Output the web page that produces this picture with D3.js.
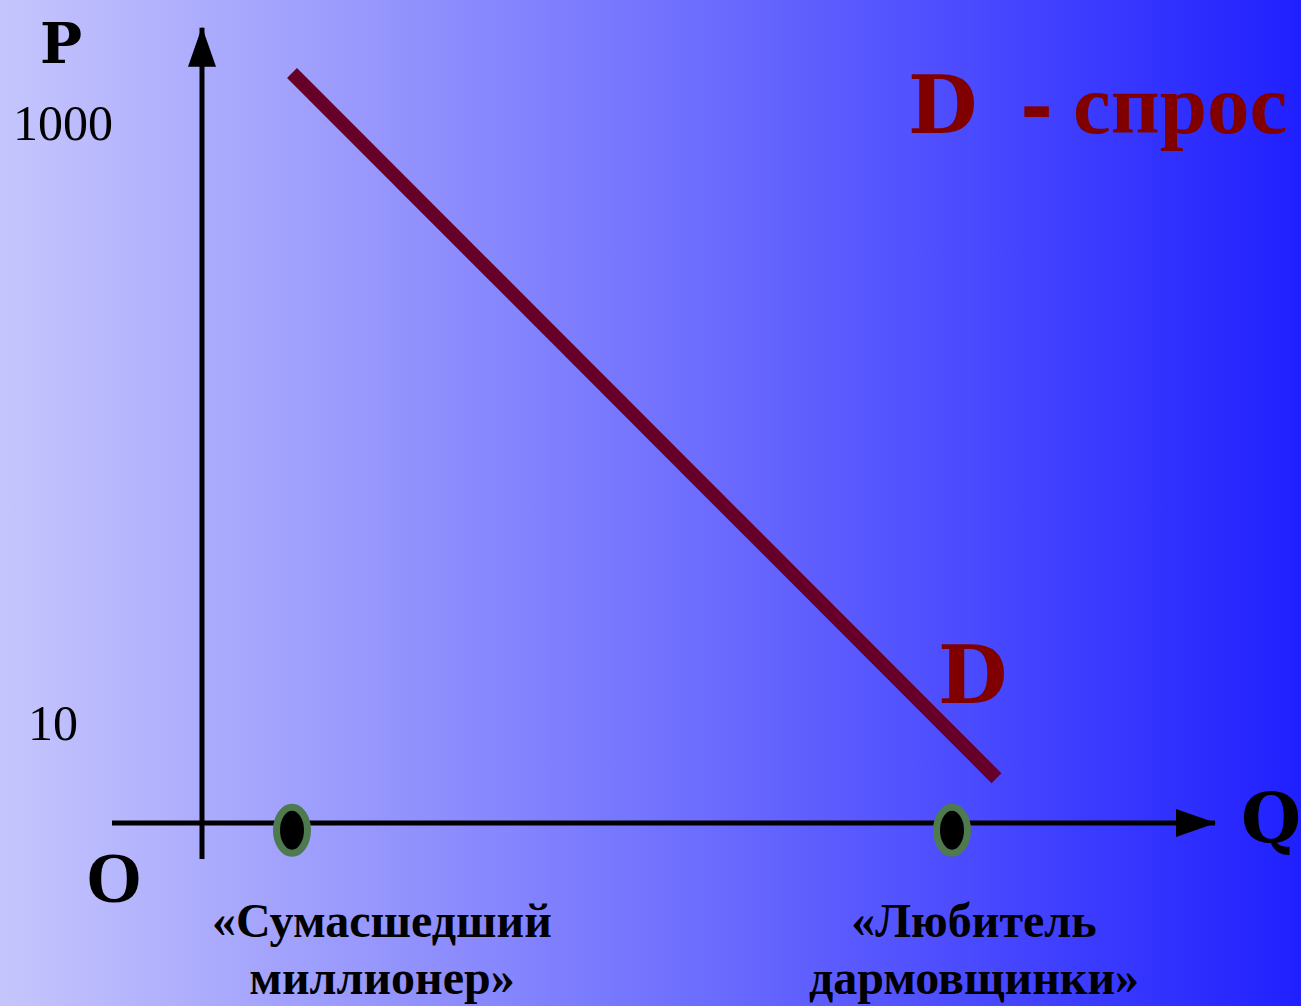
<!DOCTYPE html>
<html>
<head>
<meta charset="utf-8">
<script src="https://cdn.jsdelivr.net/npm/d3@7"></script>
<style>
  html, body { margin: 0; padding: 0; overflow: hidden; }
  svg { display: block; }
</style>
</head>
<body>
<div id="chart"></div>
<script>
// demand curve D (schematic units, Q and P both 0..100)
const demandQ = [9, 79.45];
const demandP = [93.75, 5.6];

// price tick labels on the P axis
const priceLabels = ["1000", "10"];
const priceValues = [87.2, 12.2];

// the two consumers marked on the Q axis
const buyerQ = [9, 75];
const buyerNames = [
  ["«Сумасшедший", "миллионер»"],
  ["«Любитель", "дармовщинки»"]
];

const width = 1301, height = 1006;

const svg = d3.select("#chart")
  .append("svg")
    .attr("width", width)
    .attr("height", height);

// background gradient, light lilac -> strong blue
const defs = svg.append("defs");
const grad = defs.append("linearGradient")
  .attr("id", "bg")
  .attr("x1", "0%").attr("x2", "100%")
  .attr("y1", "0%").attr("y2", "0%");
grad.append("stop").attr("offset", "0%").attr("stop-color", "rgb(198,198,253)");
grad.append("stop").attr("offset", "100%").attr("stop-color", "rgb(32,32,255)");

svg.append("rect")
  .attr("width", width)
  .attr("height", height)
  .attr("fill", "url(#bg)");

var x = d3.scaleLinear().domain([0, 100]).range([202, 1202]);
var y = d3.scaleLinear().domain([0, 100]).range([823, 23]);

// arrow markers
defs.append("marker")
  .attr("id", "arrow")
  .attr("viewBox", "0 0 40 28")
  .attr("refX", 39).attr("refY", 14)
  .attr("markerWidth", 40).attr("markerHeight", 28)
  .attr("markerUnits", "userSpaceOnUse")
  .attr("orient", "auto")
  .append("path")
    .attr("d", "M0,0 L40,14 L0,28 Z")
    .attr("fill", "#000");

// Q axis
svg.append("line")
  .attr("x1", x(-9)).attr("y1", y(0))
  .attr("x2", x(101.3)).attr("y2", y(0))
  .attr("stroke", "#000")
  .attr("stroke-width", 5)
  .attr("marker-end", "url(#arrow)");

// P axis
svg.append("line")
  .attr("x1", x(0)).attr("y1", y(-4.5))
  .attr("x2", x(0)).attr("y2", y(99.4))
  .attr("stroke", "#000")
  .attr("stroke-width", 5)
  .attr("marker-end", "url(#arrow)");

// demand line
const demand = demandQ.map((q, i) => [x(q), y(demandP[i])]);
svg.append("path")
  .datum(demand)
  .attr("d", d3.line())
  .attr("fill", "none")
  .attr("stroke", "#660029")
  .attr("stroke-width", 14);

// buyers as ovals on the Q axis
svg.selectAll("ellipse.buyer")
  .data(buyerQ)
  .enter()
  .append("ellipse")
    .attr("class", "buyer")
    .attr("cx", d => x(d))
    .attr("cy", y(-0.9))
    .attr("rx", 15.5)
    .attr("ry", 23)
    .attr("fill", "#000")
    .attr("stroke", "#4f7a50")
    .attr("stroke-width", 7);

// price tick labels
const tickX = [13, 28];
svg.selectAll("text.tick")
  .data(priceLabels)
  .enter()
  .append("text")
    .attr("class", "tick")
    .attr("x", (d, i) => tickX[i])
    .attr("y", (d, i) => y(priceValues[i]) + 15)
    .attr("font-family", "'Liberation Serif', serif")
    .attr("font-size", 50)
    .attr("fill", "#000")
    .text(d => d);

// axis letters
const slab = "'DejaVu Serif', serif";
svg.append("text")
  .attr("x", 40).attr("y", 63)
  .attr("font-family", slab).attr("font-weight", "bold")
  .attr("font-size", 56)
  .text("P");

svg.append("text")
  .attr("x", 1241).attr("y", 843)
  .attr("font-family", slab).attr("font-weight", "bold")
  .attr("font-size", 69)
  .text("Q");

svg.append("text")
  .attr("x", 86).attr("y", 902)
  .attr("font-family", "'Liberation Serif', serif").attr("font-weight", "bold")
  .attr("font-size", 72)
  .text("O");

// D label near the line
svg.append("text")
  .attr("x", 938).attr("y", 703)
  .attr("font-family", slab).attr("font-weight", "bold")
  .attr("font-size", 80)
  .attr("fill", "#800000")
  .text("D");

// legend "D - спрос"
svg.append("text")
  .attr("x", 908).attr("y", 133)
  .attr("font-family", slab).attr("font-weight", "bold")
  .attr("font-size", 80)
  .attr("fill", "#800000")
  .text("D");
svg.append("text")
  .attr("x", 1020).attr("y", 133)
  .attr("font-family", slab).attr("font-weight", "bold")
  .attr("font-size", 80)
  .attr("fill", "#800000")
  .text("-");
svg.append("text")
  .attr("x", 1073).attr("y", 133)
  .attr("font-family", "'Liberation Serif', serif").attr("font-weight", "bold")
  .attr("font-size", 85)
  .attr("fill", "#800000")
  .text("спрос");

// buyer captions
const captionX = [382, 974];
buyerNames.forEach(function(lines, i) {
  const t = svg.append("text")
    .attr("text-anchor", "middle")
    .attr("font-family", "'Liberation Serif', serif")
    .attr("font-weight", "bold")
    .attr("font-size", 48)
    .attr("fill", "#000");
  lines.forEach(function(line, j) {
    t.append("tspan")
      .attr("x", captionX[i])
      .attr("y", 937 + j * 57)
      .text(line);
  });
});
</script>
</body>
</html>
